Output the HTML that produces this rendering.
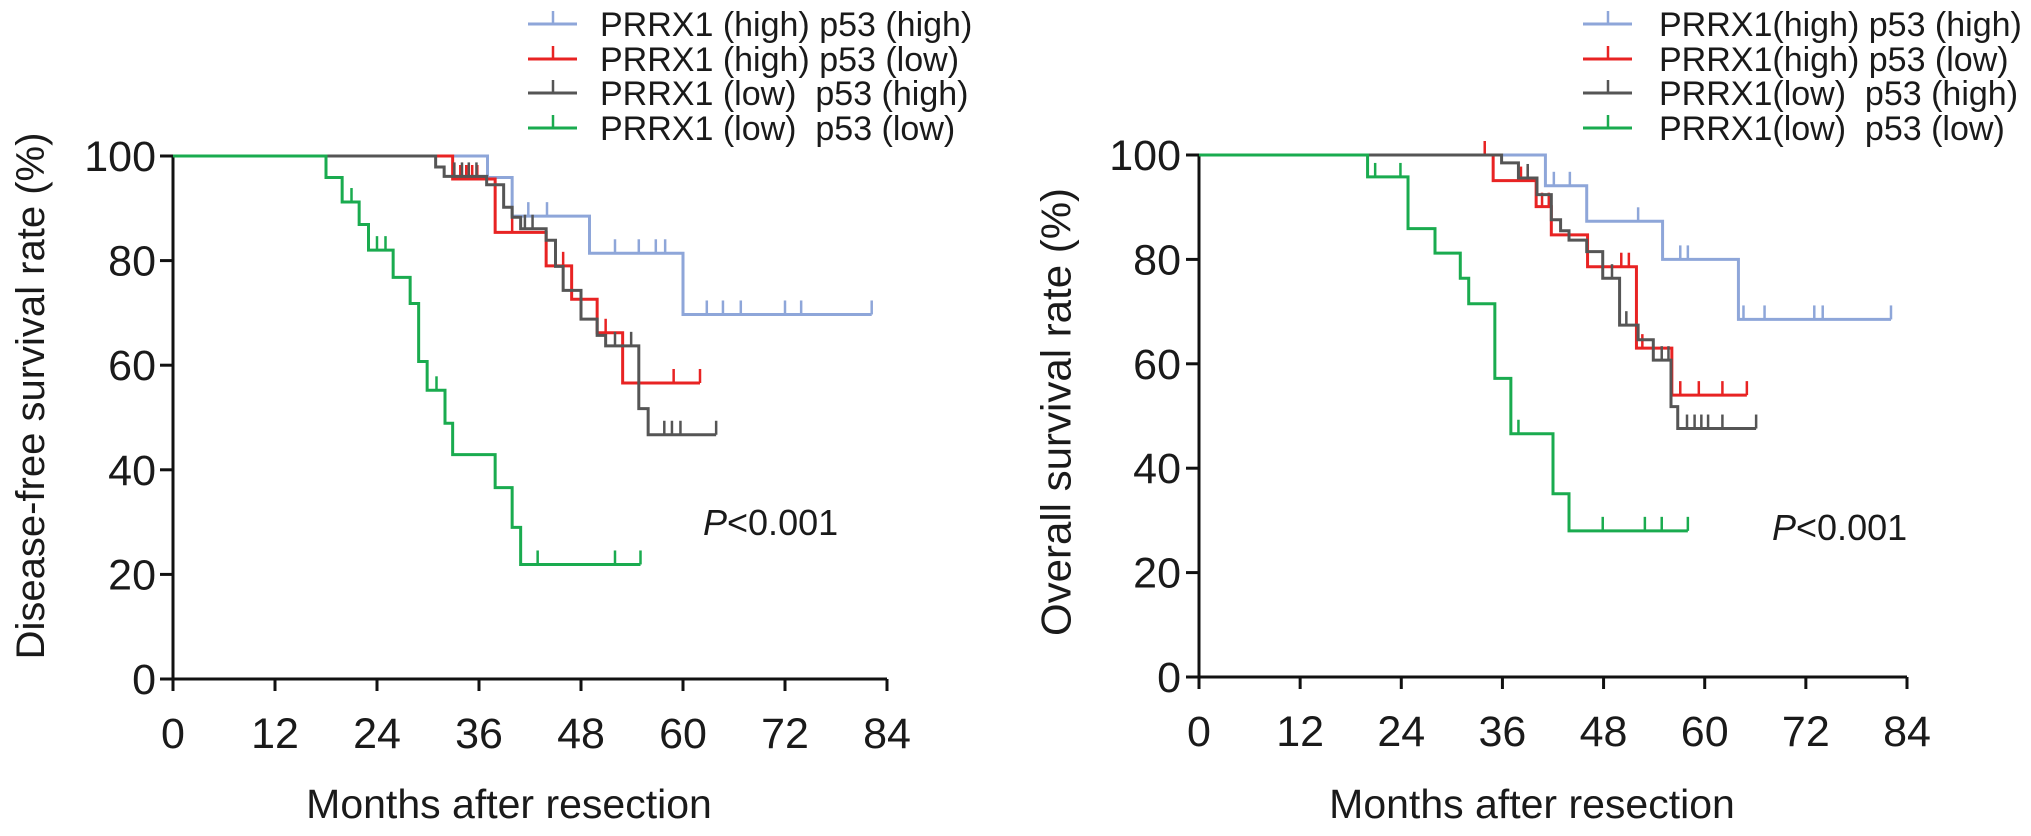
<!DOCTYPE html>
<html><head><meta charset="utf-8"><style>
html,body{margin:0;padding:0;background:#fff}
svg text{font-family:"Liberation Sans",Arial,sans-serif;fill:#1a1a1a}
</style></head><body>
<svg id="fig" width="2031" height="831" viewBox="0 0 2031 831" xmlns="http://www.w3.org/2000/svg"></svg>
<script>
const xTicks = [0,12,24,36,48,60,72,84];
const yTicks = [0,20,40,60,80,100];
const seriesNames = ["blue","red","gray","green"];
const seriesColors = ["#8ea6d9","#e82323","#555555","#1aab4f"];
const legendLeft = ["PRRX1 (high) p53 (high)","PRRX1 (high) p53 (low)","PRRX1 (low)  p53 (high)","PRRX1 (low)  p53 (low)"];
const legendRight = ["PRRX1(high) p53 (high)","PRRX1(high) p53 (low)","PRRX1(low)  p53 (high)","PRRX1(low)  p53 (low)"];

// Disease-free survival: step times (months) and survival values (%)
const dfsBlueT = [0,37,39.9,49,60];       const dfsBlueV = [100,95.9,88.5,81.4,69.7];
const dfsBlueC = [41.8,44,52,54.8,56.8,57.9,62.8,64.7,66.8,72,73.9]; const dfsBlueEnd = 82.2;
const dfsRedT = [0,32.9,37.9,43.9,46.9,49.9,52.9]; const dfsRedV = [100,95.6,85.4,79,72.6,66.2,56.6];
const dfsRedC = [33.8,34.5,35.2,35.8,39.9,45.9,50.9,58.9]; const dfsRedEnd = 62;
const dfsGrayT = [0,30.9,31.9,36.9,38.9,39.9,40.9,43.9,45,45.9,48,49.9,50.9,54.8,55.9];
const dfsGrayV = [100,97.9,96.1,94.5,90.2,88.3,86.1,83.9,78.9,74.3,68.8,65.7,63.7,51.7,46.7];
const dfsGrayC = [33.1,34,34.8,35.7,41.4,42.3,52,53.9,57.8,58.7,59.7]; const dfsGrayEnd = 63.9;
const dfsGreenT = [0,18,19.9,21.9,23,25.9,27.9,28.9,29.9,32,32.9,37.9,39.9,40.9];
const dfsGreenV = [100,95.9,91.2,86.9,82,76.8,71.8,60.7,55.2,48.9,42.9,36.6,29,21.9];
const dfsGreenC = [21,24,25,31,42.9,52]; const dfsGreenEnd = 55;

// Overall survival
const osBlueT = [0,41.1,46,55,64];        const osBlueV = [100,94.1,87.3,80,68.5];
const osBlueC = [42.1,44,52.1,57.1,58,64.6,67.1,73,74]; const osBlueEnd = 82.1;
const osRedT = [0,34.9,40,41.8,46.1,51.9,56.1]; const osRedV = [100,95.1,90.1,84.7,78.6,63,54];
const osRedC = [33.9,38.2,39,40.7,41.5,50.1,51,52.6,57.1,59.3,62.1]; const osRedEnd = 65;
const osGrayT = [0,35.9,37.9,40.1,41.8,42.9,43.9,46,47.9,49.9,52.1,53.9,56,56.8];
const osGrayV = [100,98.5,95.6,92.4,87.6,85.5,83.7,81.5,76.4,67.4,64.6,60.7,51.8,47.6];
const osGrayC = [39,49,50.7,54.9,55.7,57.9,58.8,59.6,60.4,62.1]; const osGrayEnd = 66.1;
const osGreenT = [0,20,24.8,28,31,32,35.1,37,42,43.9]; const osGreenV = [100,95.8,85.9,81.2,76.4,71.5,57.2,46.6,35.1,28];
const osGreenC = [20.9,23.9,37.9,47.9,52.9,54.9]; const osGreenEnd = 58;

const NS = "http://www.w3.org/2000/svg";
const svg = document.getElementById('fig');
function mk(tag, attrs, parent){const e=document.createElementNS(NS,tag);for(const k in attrs)e.setAttribute(k,attrs[k]);(parent||svg).appendChild(e);return e;}

function panel(cfg){
  const g = mk('g',{});
  
  
  const X = m => cfg.x0 + (m/84)*(cfg.x1-cfg.x0);
  const Y = v => cfg.y0 - (v/100)*(cfg.y0-cfg.y1);
  const ax = mk('path',{d:`M${X(0)},${Y(100)-1}V${Y(0)}H${X(84)}`,fill:'none',stroke:'#111','stroke-width':3},g);
  
  
  yTicks.forEach(v=>{
    mk('line',{x1:X(0)-13,x2:X(0),y1:Y(v),y2:Y(v),stroke:'#111','stroke-width':3},g);
    const t = mk('text',{x:cfg.ylabX,y:Y(v)+15,'text-anchor':'end','font-size':43},g);
    t.textContent = v;
    
    
  });
  xTicks.forEach(m=>{
    mk('line',{x1:X(m),x2:X(m),y1:Y(0),y2:Y(0)+12,stroke:'#111','stroke-width':3},g);
    const t = mk('text',{x:X(m),y:cfg.y0+69,'text-anchor':'middle','font-size':43},g);
    t.textContent = m;
    
    
  });
  const xt = mk('text',{x:(X(0)+X(84))/2-21,y:818,'text-anchor':'middle','font-size':41},g);
  xt.textContent = 'Months after resection';
  
  
  const yt = mk('text',{x:0,y:0,'text-anchor':'middle','dominant-baseline':'central','font-size':cfg.ytSize,transform:`translate(${cfg.ytX},${cfg.ytY}) rotate(-90)`},g);
  yt.textContent = cfg.ytitle;
  
  
  cfg.series.forEach((s,i)=>{
    let d = `M${X(s.t[0])},${Y(s.v[0])}`;
    for(let k=1;k<s.t.length;k++){ d += `H${X(s.t[k])}V${Y(s.v[k])}`; }
    d += `H${X(s.end)}`;
    const p = mk('path',{d,fill:'none',stroke:seriesColors[i],'stroke-width':3,'stroke-linejoin':'miter'},g);
    
    
    const cens = s.c.concat([s.end]);
    cens.forEach(c=>{
      let v = s.v[0];
      for(let k=0;k<s.t.length;k++){ if(s.t[k]<=c) v = s.v[k]; }
      const l = mk('line',{x1:X(c),x2:X(c),y1:Y(v),y2:Y(v)-14,stroke:seriesColors[i],'stroke-width':2.5},g);
      
      
    });
  });
  const rows=[24,59,93,128];
  cfg.legend.forEach((lab,i)=>{
    const lg = mk('g',{},g);
    
    
    mk('line',{x1:cfg.legX,x2:cfg.legX+49,y1:rows[i],y2:rows[i],stroke:seriesColors[i],'stroke-width':3},lg);
    mk('line',{x1:cfg.legX+25,x2:cfg.legX+25,y1:rows[i],y2:rows[i]-13,stroke:seriesColors[i],'stroke-width':2.5},lg);
    const t = mk('text',{x:cfg.legTX,y:rows[i]+12,'font-size':34},lg);
    t.setAttribute('style','white-space:pre');
    t.textContent = lab;
  });
  const pv = mk('text',{x:cfg.pX,y:cfg.pY,'font-size':36},g);
  
  
  const ip = mk('tspan',{'font-style':'italic'},pv); ip.textContent='P';
  const rest = mk('tspan',{},pv); rest.textContent='<0.001';
}

panel({name:'dfs-chart',x0:173,x1:887,y0:679,y1:156,ylabX:156,ytX:31,ytY:396,ytSize:40,
  ytitle:'Disease-free survival rate (%)',legend:legendLeft,legX:528,legTX:600,pX:703,pY:535,
  series:[{t:dfsBlueT,v:dfsBlueV,c:dfsBlueC,end:dfsBlueEnd},{t:dfsRedT,v:dfsRedV,c:dfsRedC,end:dfsRedEnd},
          {t:dfsGrayT,v:dfsGrayV,c:dfsGrayC,end:dfsGrayEnd},{t:dfsGreenT,v:dfsGreenV,c:dfsGreenC,end:dfsGreenEnd}]});
panel({name:'os-chart',x0:1199,x1:1907,y0:677,y1:155,ylabX:1181,ytX:1056,ytY:412,ytSize:42,
  ytitle:'Overall survival rate (%)',legend:legendRight,legX:1583,legTX:1659,pX:1772,pY:540,
  series:[{t:osBlueT,v:osBlueV,c:osBlueC,end:osBlueEnd},{t:osRedT,v:osRedV,c:osRedC,end:osRedEnd},
          {t:osGrayT,v:osGrayV,c:osGrayC,end:osGrayEnd},{t:osGreenT,v:osGreenV,c:osGreenC,end:osGreenEnd}]});
</script>
</body></html>
